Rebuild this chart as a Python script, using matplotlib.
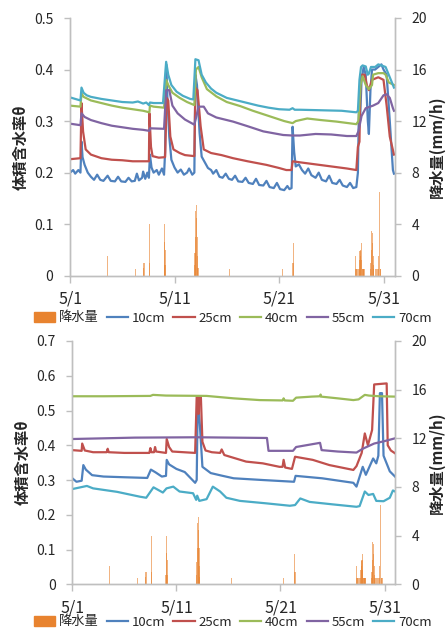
import matplotlib
matplotlib.use("Agg")
import matplotlib.pyplot as plt
from matplotlib.patches import Patch
from matplotlib.lines import Line2D

plt.rcParams['font.family'] = ['Noto Sans CJK JP', 'DejaVu Sans']

# ---------------- data ----------------
# x values: days since 5/1 00:00
tick_days = [0, 10, 20, 30]
tick_labels = ['5/1', '5/11', '5/21', '5/31']
series_names = ['10cm', '25cm', '40cm', '55cm', '70cm']
rain_name = '降水量'

# hourly rainfall (mm/h) - same for both sites
rain_day = [3.58, 6.25, 7.04, 7.08, 7.58, 7.63,
            9.0, 9.04, 9.08, 9.12, 9.17,
            11.92, 11.96, 12.0, 12.04, 12.08, 12.12, 12.17, 12.21, 12.25,
            15.25, 20.33, 21.33, 21.38, 21.42,
            27.29, 27.33, 27.38, 27.42, 27.5, 27.58, 27.67, 27.71, 27.75, 27.79,
            27.83, 27.88, 27.92, 27.96, 28.0, 28.04, 28.08, 28.12, 28.17,
            28.75, 28.79, 28.83, 28.88, 28.92, 28.96, 29.0, 29.04, 29.08,
            29.25, 29.33, 29.42, 29.5, 29.54, 29.58, 29.67, 29.75]
rain_mm = [1.5, 0.5, 0.6, 1.0, 4.0, 1.0,
           0.8, 2.6, 4.0, 2.0, 0.8,
           0.8, 1.8, 3.0, 5.0, 5.5, 4.5, 3.0, 1.5, 0.6,
           0.5, 0.5, 1.0, 2.5, 1.0,
           1.5, 0.5, 0.5, 0.5, 0.5, 0.5, 0.5, 1.2, 1.9, 1.5,
           2.0, 2.5, 1.2, 0.5, 0.5, 0.5, 0.5, 0.5, 0.5,
           0.5, 1.0, 2.0, 3.5, 3.3, 2.5, 1.5, 0.8, 0.5,
           0.5, 0.5, 0.5, 0.5, 1.5, 6.5, 0.5, 0.5]

# ---- site 1 (top) volumetric water content ----
t1_10_d = [0, 0.3, 0.5, 0.8, 1.0, 1.1, 1.2, 1.4, 1.7, 2.0, 2.3, 2.6, 2.9, 3.2, 3.6, 3.9,
           4.3, 4.6, 4.9, 5.3, 5.6, 5.9, 6.2, 6.4, 6.6, 6.9, 7.0, 7.2, 7.4, 7.55, 7.65,
           7.8, 8.0, 8.3, 8.5, 8.8, 9.0, 9.1, 9.2, 9.35, 9.5, 9.7, 10.0, 10.3, 10.6,
           10.9, 11.2, 11.4, 11.7, 11.9, 12.0, 12.15, 12.4, 12.6, 12.9, 13.2, 13.5,
           13.7, 14.0, 14.3, 14.6, 14.9, 15.2, 15.5, 15.8, 16.1, 16.5, 16.8, 17.1,
           17.5, 17.8, 18.1, 18.5, 18.8, 19.1, 19.5, 19.8, 20.1, 20.5, 20.8, 21.0,
           21.2, 21.3, 21.45, 21.6, 21.9, 22.2, 22.5, 22.8, 23.1, 23.5, 23.8, 24.1,
           24.5, 24.8, 25.1, 25.5, 25.8, 26.1, 26.5, 26.8, 27.1, 27.4, 27.55, 27.65,
           27.75, 27.9, 28.1, 28.3, 28.5, 28.6, 28.75, 28.9, 29.2, 29.5, 29.8, 30.0,
           30.3, 30.6, 30.9, 31.0]
t1_10_v = [0.200, 0.205, 0.198, 0.205, 0.200, 0.260, 0.230, 0.215, 0.200, 0.192, 0.186,
           0.196, 0.186, 0.184, 0.194, 0.184, 0.183, 0.192, 0.183, 0.182, 0.190, 0.183,
           0.184, 0.198, 0.185, 0.190, 0.202, 0.188, 0.200, 0.190, 0.235, 0.210, 0.200,
           0.205, 0.196, 0.208, 0.196, 0.240, 0.410, 0.330, 0.270, 0.225, 0.210, 0.200,
           0.206, 0.196, 0.200, 0.208, 0.196, 0.200, 0.390, 0.370, 0.277, 0.231, 0.220,
           0.209, 0.205, 0.198, 0.205, 0.192, 0.190, 0.198, 0.188, 0.186, 0.194, 0.183,
           0.182, 0.190, 0.180, 0.178, 0.188, 0.176, 0.175, 0.184, 0.172, 0.170, 0.180,
           0.168, 0.166, 0.174, 0.168, 0.170, 0.289, 0.240, 0.212, 0.216, 0.205, 0.198,
           0.208, 0.195, 0.190, 0.200, 0.186, 0.183, 0.194, 0.180, 0.178, 0.186, 0.175,
           0.172, 0.180, 0.170, 0.172, 0.200, 0.328, 0.300, 0.380, 0.405, 0.390, 0.300,
           0.275, 0.360, 0.400, 0.400, 0.405, 0.410, 0.400, 0.390, 0.300, 0.205, 0.198]

t1_25_d = [0, 1.0, 1.1, 1.25, 1.5, 2.0, 3.0, 4.0, 5.0, 6.0, 7.0, 7.55, 7.6, 7.75, 7.9,
           8.5, 9.1, 9.25, 9.4, 9.6, 9.9, 10.5, 11.0, 11.9, 12.0, 12.2, 12.5, 12.8, 13.5,
           14.5, 15.6, 17.0, 18.8, 20.0, 20.7, 21.2, 21.3, 22.0, 23.5, 25.0, 26.5, 27.4,
           27.55, 27.7, 27.8, 28.2, 28.4, 28.6, 28.9, 29.5, 30.0, 30.3, 30.6, 31.0]
t1_25_v = [0.226, 0.228, 0.335, 0.280, 0.245, 0.235, 0.228, 0.225, 0.224, 0.222, 0.222,
           0.222, 0.315, 0.250, 0.232, 0.229, 0.230, 0.345, 0.340, 0.270, 0.245, 0.238,
           0.234, 0.232, 0.365, 0.360, 0.290, 0.245, 0.238, 0.234, 0.228, 0.222, 0.215,
           0.209, 0.205, 0.205, 0.222, 0.220, 0.216, 0.212, 0.208, 0.205, 0.250, 0.260,
           0.390, 0.390, 0.370, 0.360, 0.380, 0.385, 0.380, 0.330, 0.270, 0.235]

t1_40_d = [0, 1.0, 1.1, 1.3, 2.0, 3.0, 4.0, 5.0, 6.0, 7.0, 7.6, 7.65, 8.0, 9.0, 9.2, 9.4,
           9.8, 10.5, 11.2, 11.9, 12.05, 12.3, 12.6, 13.1, 14.0, 15.0, 16.3, 17.5, 19.0,
           20.5, 21.3, 21.6, 22.7, 24.0, 25.5, 27.4, 27.6, 27.8, 28.0, 28.3, 28.6, 28.9,
           29.0, 29.5, 30.0, 30.2, 30.5, 31.0]
t1_40_v = [0.330, 0.328, 0.354, 0.347, 0.340, 0.335, 0.330, 0.326, 0.323, 0.320, 0.317,
           0.330, 0.328, 0.326, 0.380, 0.370, 0.355, 0.345, 0.337, 0.331, 0.400, 0.405,
           0.385, 0.362, 0.348, 0.337, 0.329, 0.320, 0.310, 0.300, 0.296, 0.300, 0.305,
           0.302, 0.299, 0.294, 0.300, 0.370, 0.387, 0.370, 0.362, 0.370, 0.390, 0.393,
           0.393, 0.390, 0.375, 0.370]

t1_55_d = [0, 1.0, 1.1, 1.4, 2.0, 3.0, 4.0, 5.0, 6.0, 7.0, 7.6, 7.65, 9.0, 9.2, 9.5, 9.8,
           10.3, 11.0, 11.9, 12.1, 12.3, 12.8, 13.2, 14.0, 15.6, 17.0, 18.5, 20.4, 21.3,
           22.0, 23.5, 25.0, 26.5, 27.4, 27.6, 27.9, 28.3, 29.0, 29.5, 30.0, 30.3, 30.6,
           30.9, 31.0]
t1_55_v = [0.295, 0.292, 0.315, 0.308, 0.302, 0.296, 0.291, 0.288, 0.285, 0.283, 0.281,
           0.286, 0.285, 0.360, 0.360, 0.330, 0.315, 0.303, 0.293, 0.310, 0.328, 0.328,
           0.315, 0.307, 0.299, 0.290, 0.280, 0.273, 0.272, 0.272, 0.275, 0.274, 0.271,
           0.271, 0.280, 0.310, 0.325, 0.330, 0.335, 0.350, 0.352, 0.345, 0.325, 0.320]

t1_70_d = [0, 0.5, 1.0, 1.1, 1.3, 1.6, 2.0, 3.0, 4.0, 5.0, 6.0, 6.5, 7.0, 7.3, 7.55, 7.65,
           8.0, 8.9, 9.2, 9.4, 9.7, 10.2, 10.8, 11.5, 11.8, 12.0, 12.3, 12.6, 13.0, 13.5,
           14.0, 15.0, 16.0, 17.0, 18.0, 19.0, 20.0, 21.0, 21.3, 21.5, 22.0, 24.0, 26.0,
           27.4, 27.55, 27.7, 27.85, 28.0, 28.3, 28.5, 28.6, 28.8, 29.2, 29.5, 29.8, 30.2,
           30.5, 30.8, 31.0]
t1_70_v = [0.346, 0.343, 0.340, 0.365, 0.355, 0.350, 0.347, 0.343, 0.340, 0.337, 0.336,
           0.338, 0.334, 0.336, 0.331, 0.336, 0.335, 0.335, 0.415, 0.390, 0.370, 0.357,
           0.349, 0.343, 0.342, 0.420, 0.418, 0.390, 0.375, 0.363, 0.355, 0.345, 0.340,
           0.335, 0.330, 0.326, 0.323, 0.322, 0.325, 0.322, 0.322, 0.321, 0.320, 0.317,
           0.320, 0.380, 0.405, 0.408, 0.406, 0.390, 0.392, 0.405, 0.405, 0.410, 0.408,
           0.405, 0.390, 0.375, 0.365]

# ---- site 2 (bottom) volumetric water content ----
t2_10_d = [0, 0.4, 0.9, 1.06, 1.3, 1.9, 3.0, 5.0, 7.2, 7.55, 8.0, 8.6, 9.0, 9.07, 9.3,
           10.0, 10.8, 11.8, 11.95, 12.05, 12.25, 12.5, 13.3, 14.3, 15.5, 18.3, 21.3,
           21.45, 24.0, 27.0, 27.3, 27.9, 28.2, 28.9, 29.2, 29.4, 29.55, 29.75, 29.9,
           30.5, 31.0]
t2_10_v = [0.305, 0.295, 0.298, 0.343, 0.330, 0.314, 0.310, 0.308, 0.306, 0.330, 0.322,
           0.310, 0.312, 0.358, 0.345, 0.332, 0.323, 0.292, 0.300, 0.530, 0.460, 0.338,
           0.320, 0.313, 0.305, 0.300, 0.295, 0.312, 0.305, 0.292, 0.281, 0.338, 0.315,
           0.362, 0.348, 0.370, 0.550, 0.550, 0.370, 0.325, 0.310]

t2_25_d = [0, 0.9, 0.95, 1.2, 2.0, 3.3, 3.4, 3.5, 5.0, 7.4, 7.5, 7.6, 7.85, 7.95, 8.05,
           9.0, 9.07, 9.3, 9.6, 11.8, 11.95, 12.05, 12.12, 12.2, 12.35, 12.5, 12.8, 13.4,
           14.2, 14.35, 14.6, 15.15, 16.7, 18.3, 19.9, 20.2, 20.3, 20.45, 21.1, 21.4,
           23.1, 24.7, 27.0, 27.3, 27.8, 28.1, 28.4, 28.8, 29.0, 30.2, 30.3, 30.6, 31.0]
t2_25_v = [0.386, 0.384, 0.405, 0.385, 0.380, 0.380, 0.390, 0.380, 0.378, 0.378, 0.392,
           0.380, 0.380, 0.395, 0.382, 0.378, 0.418, 0.395, 0.382, 0.378, 0.540, 0.540,
           0.490, 0.540, 0.540, 0.410, 0.385, 0.380, 0.378, 0.388, 0.372, 0.367, 0.353,
           0.348, 0.338, 0.338, 0.358, 0.336, 0.332, 0.367, 0.358, 0.343, 0.329, 0.340,
           0.378, 0.434, 0.400, 0.444, 0.575, 0.578, 0.400, 0.385, 0.377]

t2_40_d = [0, 3.0, 7.5, 7.75, 9.0, 12.9, 15.5, 18.0, 20.2, 20.3, 20.4, 21.2, 21.5, 23.0,
           23.8, 23.85, 23.9, 25.5, 27.0, 27.5, 28.1, 28.5, 29.5, 31.0]
t2_40_v = [0.541, 0.541, 0.542, 0.545, 0.543, 0.542, 0.535, 0.530, 0.529, 0.535, 0.529,
           0.528, 0.537, 0.540, 0.541, 0.546, 0.540, 0.535, 0.530, 0.532, 0.545, 0.543,
           0.541, 0.540]

t2_55_d = [0, 3.0, 6.0, 12.0, 18.7, 18.85, 21.2, 21.5, 23.8, 23.95, 25.5, 27.3, 27.9,
           29.0, 30.0, 31.0]
t2_55_v = [0.418, 0.420, 0.422, 0.423, 0.421, 0.384, 0.384, 0.395, 0.407, 0.386, 0.382,
           0.379, 0.390, 0.405, 0.412, 0.420]

t2_70_d = [0, 1.4, 2.0, 4.3, 6.5, 7.1, 7.8, 8.7, 9.05, 9.7, 10.3, 11.6, 11.9, 12.0, 12.2,
           12.9, 13.5, 14.2, 14.8, 16.1, 18.6, 20.9, 21.4, 21.9, 22.8, 25.0, 27.3, 27.6,
           28.1, 28.45, 28.9, 29.2, 29.9, 30.5, 30.8, 31.0]
t2_70_v = [0.274, 0.283, 0.276, 0.266, 0.252, 0.249, 0.279, 0.264, 0.276, 0.281, 0.267,
           0.262, 0.243, 0.255, 0.240, 0.245, 0.281, 0.267, 0.249, 0.240, 0.233, 0.226,
           0.228, 0.247, 0.237, 0.230, 0.223, 0.225, 0.267, 0.257, 0.260, 0.240, 0.239,
           0.249, 0.270, 0.267]

# ---------------- style ----------------
colors = ['#4F81BD', '#C0504D', '#9BBB59', '#8064A2', '#4BACC6']
rain_color = '#E8832F'
spine_c = '#BFBFBF'
text_c = '#262626'

fig = plt.figure(figsize=(4.48, 6.29), dpi=100)


def make_panel(rect, series, ymax, xmax):
    ax = fig.add_axes(rect)
    ax2 = ax.twinx()
    ax2.bar(rain_day, rain_mm, width=0.1, color=rain_color, alpha=0.6,
            linewidth=0, align='center')
    for (d, v), c in zip(series, colors):
        ax.plot(d, v, color=c, lw=1.6, solid_joinstyle='round')
    ax.set_zorder(ax2.get_zorder() + 1)
    ax.patch.set_visible(False)
    ax.set_xlim(0, xmax)
    ax.set_ylim(0, ymax)
    n = int(round(ymax * 10)) + 1
    ax.set_yticks([i / 10 for i in range(n)])
    ax.set_yticklabels(['0' if i == 0 else f'{i/10:.1f}' for i in range(n)])
    ax2.set_ylim(0, 20)
    ax2.set_yticks([0, 4, 8, 12, 16, 20])
    ax.set_xticks(tick_days)
    ax.set_xticklabels(tick_labels)
    for a in (ax, ax2):
        for s in a.spines.values():
            s.set_color(spine_c)
            s.set_linewidth(1.0)
        a.spines['top'].set_visible(False)
    ax.tick_params(axis='y', length=4, width=1, color=spine_c, pad=8,
                   labelsize=10, labelcolor=text_c)
    ax2.tick_params(axis='y', length=4, width=1, color=spine_c, pad=8,
                    labelsize=10, labelcolor=text_c)
    ax.tick_params(axis='x', length=5, width=1, color=spine_c, pad=6,
                   labelsize=11.5, labelcolor=text_c)
    ax.set_ylabel('体積含水率θ', fontsize=11, fontweight='bold', color=text_c, labelpad=4)
    ax2.set_ylabel('降水量(mm/h)', fontsize=11, fontweight='bold', color=text_c, labelpad=1)
    return ax, ax2


top_series = [(t1_10_d, t1_10_v), (t1_25_d, t1_25_v), (t1_40_d, t1_40_v),
              (t1_55_d, t1_55_v), (t1_70_d, t1_70_v)]
bot_series = [(t2_10_d, t2_10_v), (t2_25_d, t2_25_v), (t2_40_d, t2_40_v),
              (t2_55_d, t2_55_v), (t2_70_d, t2_70_v)]

make_panel([70 / 448, 1 - 275.7 / 629, 325 / 448, 257.7 / 629], top_series, 0.5, 31.1)
make_panel([72.3 / 448, 1 - 584.3 / 629, 322.7 / 448, 243.3 / 629], bot_series, 0.7, 31.0)

handles = [Patch(color=rain_color)] + [Line2D([], [], color=c, lw=1.6) for c in colors]
labels = [rain_name] + series_names
for yc in (1 - 318 / 629, 1 - 622 / 629):
    fig.legend(handles, labels, loc='center', bbox_to_anchor=(0.52, yc), ncol=6,
               frameon=False, fontsize=9.5, handlelength=1.6, handletextpad=0.3,
               columnspacing=0.6, borderpad=0, labelcolor=text_c)

fig.savefig('out.png', dpi=100)
